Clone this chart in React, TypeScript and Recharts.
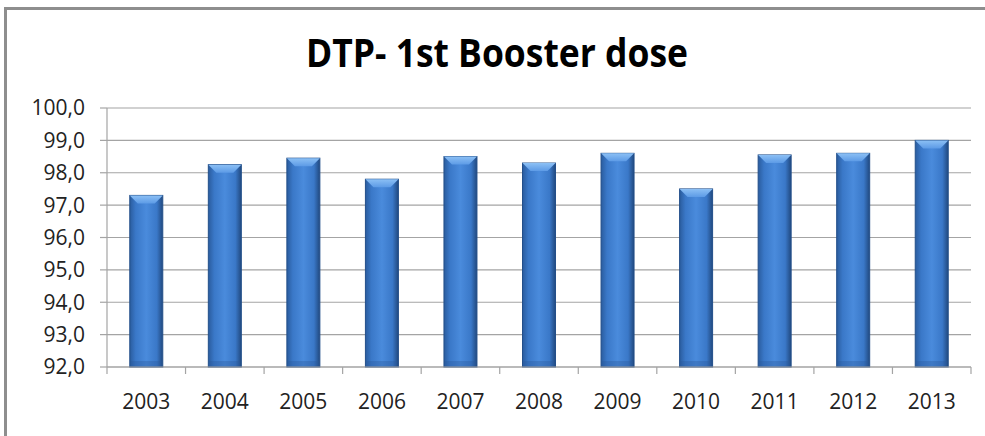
import React from 'react';
import { BarChart, Bar, XAxis, YAxis, CartesianGrid } from 'recharts';

const years = ['2003', '2004', '2005', '2006', '2007', '2008', '2009', '2010', '2011', '2012', '2013'];
const coverage = [97.3, 98.25, 98.45, 97.8, 98.5, 98.3, 98.6, 97.5, 98.55, 98.6, 99.0];
const yTicks = [92, 93, 94, 95, 96, 97, 98, 99, 100];
const title = 'DTP- 1st Booster dose';

const data = years.map((y, i) => ({ year: y, value: coverage[i] }));

const GRID = '#a4a4a4';
const FONT = '"Open Sans", sans-serif';

const BevelBar = (props: any) => {
  const { x, y, width, height } = props;
  if (!height || height <= 0 || !width || width <= 0) return null;
  const b = Math.min(8, width / 4);
  return (
    <g>
      <rect x={x} y={y} width={width} height={height} fill="url(#barGrad)" stroke="#234f8a" strokeWidth={1} />
      <polygon
        points={`${x},${y} ${x + width},${y} ${x + width - b},${y + b} ${x + b},${y + b}`}
        fill="url(#topGrad)"
      />
      <rect x={x + 1} y={y + height - 6} width={width - 2} height={5} fill="#2a5a9c" opacity={0.35} />
    </g>
  );
};

const XTick = (props: any) => {
  const { x, y, payload, index, visibleTicksCount } = props;
  const half = payload && typeof payload.offset === 'number' && payload.offset > 0 ? payload.offset : 39.27;
  const axisY = 367;
  return (
    <g>
      <line x1={x - half} y1={axisY} x2={x - half} y2={axisY + 7} stroke={GRID} strokeWidth={1.2} />
      {index === (visibleTicksCount ?? years.length) - 1 && (
        <line x1={x + half} y1={axisY} x2={x + half} y2={axisY + 7} stroke={GRID} strokeWidth={1.2} />
      )}
      <text x={x} y={y} dy="0.71em" textAnchor="middle" fill="#222" fontSize={21} fontFamily={FONT}>
        {payload.value}
      </text>
    </g>
  );
};

export default function App() {
  return (
    <div style={{ position: 'absolute', left: 0, top: 0, width: 985, height: 436, background: '#fff', overflow: 'hidden' }}>
      <div style={{ position: 'absolute', left: 4, top: 7, width: 3, height: 429, background: '#8e8e8e' }} />
      <div style={{ position: 'absolute', left: 4, top: 7, width: 981, height: 3, background: '#8e8e8e' }} />
      <svg width={985} height={100} style={{ position: 'absolute', left: 0, top: 0 }}>
        <text
          x={497}
          y={67}
          textAnchor="middle"
          fontFamily={FONT}
          fontWeight={700}
          fontSize={39}
          textLength={382}
          lengthAdjust="spacingAndGlyphs"
          fill="#000"
        >
          {title}
        </text>
      </svg>
      <div style={{ position: 'absolute', left: 0, top: 0 }}>
        <BarChart width={985} height={436} data={data} margin={{ top: 108, right: 14, bottom: 0, left: 0 }} barCategoryGap="29%">
          <defs>
            <linearGradient id="barGrad" x1="0" y1="0" x2="1" y2="0">
              <stop offset="0%" stopColor="#2a5c9e" />
              <stop offset="18%" stopColor="#3a78c8" />
              <stop offset="50%" stopColor="#4a8bdc" />
              <stop offset="82%" stopColor="#3a78c8" />
              <stop offset="100%" stopColor="#21497f" />
            </linearGradient>
            <linearGradient id="topGrad" x1="0" y1="0" x2="0" y2="1">
              <stop offset="0%" stopColor="#8cc0f5" />
              <stop offset="100%" stopColor="#5d9be6" />
            </linearGradient>
          </defs>
          <CartesianGrid vertical={false} stroke={GRID} strokeWidth={1.2} />
          <XAxis
            dataKey="year"
            height={69}
            axisLine={{ stroke: GRID, strokeWidth: 1.2 }}
            tickLine={false}
            tickSize={6}
            tickMargin={21}
            tick={<XTick />}
            interval={0}
          />
          <YAxis
            width={107}
            domain={[92, 100]}
            ticks={yTicks}
            interval={0}
            axisLine={{ stroke: GRID, strokeWidth: 1.2 }}
            tickLine={{ stroke: GRID, strokeWidth: 1.2 }}
            tickSize={7}
            tickMargin={15}
            tickFormatter={(v: number) => v.toFixed(1).replace('.', ',')}
            tick={{ fill: '#222', fontSize: 21, fontFamily: FONT }}
          />
          <Bar dataKey="value" isAnimationActive={false} shape={<BevelBar />} />
        </BarChart>
      </div>
    </div>
  );
}
